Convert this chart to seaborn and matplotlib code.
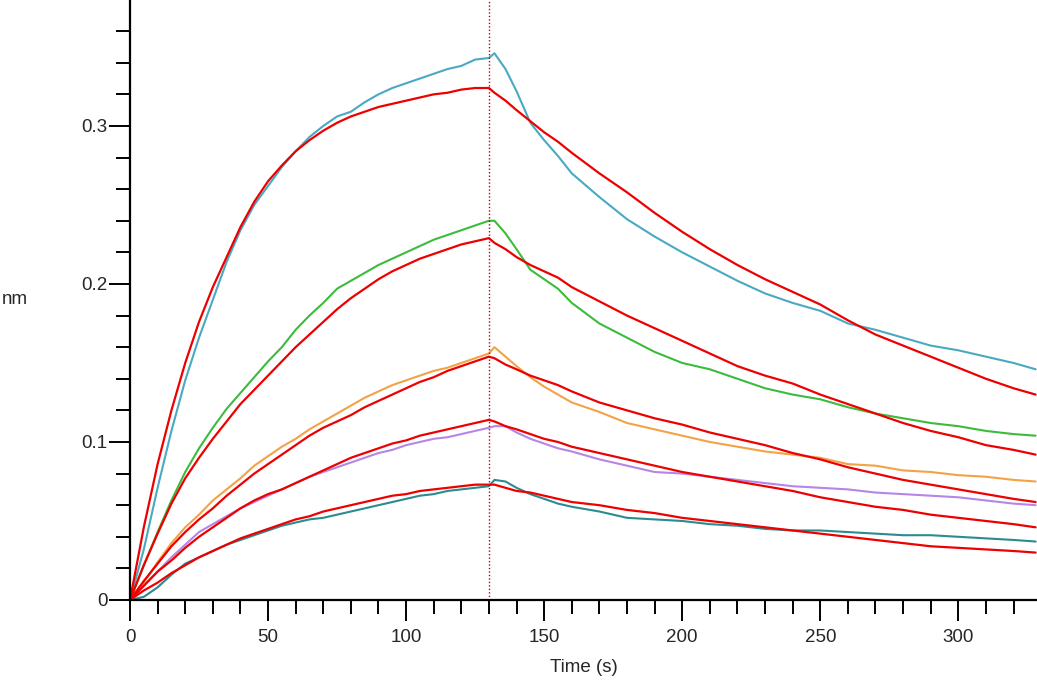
import numpy as np
import pandas as pd
import matplotlib
matplotlib.use("Agg")
import matplotlib.pyplot as plt
import seaborn as sns
from matplotlib.ticker import MultipleLocator

sns.set_style("ticks")
plt.rcParams['font.family'] = ['Liberation Sans', 'DejaVu Sans']

# --- data ---
time_s = [0, 5, 10, 15, 20, 25, 30, 35, 40, 45, 50, 55, 60, 65, 70, 75, 80, 85, 90, 95,
          100, 105, 110, 115, 120, 125, 130,
          132, 136, 140, 145, 150, 155, 160,
          170, 180, 190, 200, 210, 220, 230, 240, 250, 260, 270, 280, 290, 300, 310, 320, 328]

cyan_data = [0, 0.032, 0.071, 0.107, 0.139, 0.166, 0.190, 0.214, 0.234, 0.250, 0.262, 0.274, 0.284, 0.293,
             0.300, 0.306, 0.309, 0.315, 0.320, 0.324, 0.327, 0.330, 0.333, 0.336, 0.338, 0.342, 0.343,
             0.346, 0.336, 0.322, 0.302, 0.291, 0.281, 0.270,
             0.255, 0.241, 0.230, 0.220, 0.211, 0.202, 0.194, 0.188, 0.183, 0.175, 0.171, 0.166, 0.161,
             0.158, 0.154, 0.150, 0.146]
cyan_fit = [0, 0.046, 0.086, 0.120, 0.150, 0.176, 0.198, 0.217, 0.236, 0.252, 0.265, 0.275, 0.284, 0.291,
            0.297, 0.302, 0.306, 0.309, 0.312, 0.314, 0.316, 0.318, 0.320, 0.321, 0.323, 0.324, 0.324,
            0.321, 0.316, 0.310, 0.303, 0.296, 0.290, 0.283,
            0.270, 0.258, 0.245, 0.233, 0.222, 0.212, 0.203, 0.195, 0.187, 0.177, 0.168, 0.161, 0.154,
            0.147, 0.140, 0.134, 0.130]

green_data = [0, 0.022, 0.043, 0.063, 0.081, 0.096, 0.109, 0.121, 0.131, 0.141, 0.151, 0.160, 0.171, 0.180,
              0.188, 0.197, 0.202, 0.207, 0.212, 0.216, 0.220, 0.224, 0.228, 0.231, 0.234, 0.237, 0.240,
              0.240, 0.232, 0.222, 0.209, 0.203, 0.197, 0.188,
              0.175, 0.166, 0.157, 0.150, 0.146, 0.140, 0.134, 0.130, 0.127, 0.122, 0.118, 0.115, 0.112,
              0.110, 0.107, 0.105, 0.104]
green_fit = [0, 0.022, 0.042, 0.061, 0.077, 0.090, 0.102, 0.113, 0.124, 0.133, 0.142, 0.151, 0.160, 0.168,
             0.176, 0.184, 0.191, 0.197, 0.203, 0.208, 0.212, 0.216, 0.219, 0.222, 0.225, 0.227, 0.229,
             0.226, 0.222, 0.217, 0.212, 0.208, 0.204, 0.198,
             0.189, 0.180, 0.172, 0.164, 0.156, 0.148, 0.142, 0.137, 0.130, 0.124, 0.118, 0.112, 0.107,
             0.103, 0.098, 0.095, 0.092]

orange_data = [0, 0.011, 0.024, 0.036, 0.046, 0.054, 0.063, 0.070, 0.077, 0.085, 0.091, 0.097, 0.102, 0.108,
               0.113, 0.118, 0.123, 0.128, 0.132, 0.136, 0.139, 0.142, 0.145, 0.147, 0.150, 0.153, 0.156,
               0.160, 0.154, 0.148, 0.141, 0.135, 0.130, 0.125,
               0.119, 0.112, 0.108, 0.104, 0.100, 0.097, 0.094, 0.092, 0.090, 0.086, 0.085, 0.082, 0.081,
               0.079, 0.078, 0.076, 0.075]
orange_fit = [0, 0.012, 0.023, 0.034, 0.043, 0.051, 0.058, 0.066, 0.073, 0.080, 0.086, 0.092, 0.098, 0.104,
              0.109, 0.113, 0.117, 0.122, 0.126, 0.130, 0.134, 0.138, 0.141, 0.145, 0.148, 0.151, 0.154,
              0.153, 0.149, 0.146, 0.142, 0.139, 0.136, 0.132,
              0.125, 0.120, 0.115, 0.111, 0.106, 0.102, 0.098, 0.093, 0.089, 0.084, 0.080, 0.076, 0.073,
              0.070, 0.067, 0.064, 0.062]

purple_data = [0, 0.009, 0.018, 0.027, 0.035, 0.043, 0.048, 0.053, 0.058, 0.062, 0.066, 0.070, 0.074, 0.078,
               0.081, 0.084, 0.087, 0.090, 0.093, 0.095, 0.098, 0.100, 0.102, 0.103, 0.105, 0.107, 0.109,
               0.110, 0.110, 0.106, 0.102, 0.099, 0.096, 0.094,
               0.089, 0.085, 0.081, 0.080, 0.078, 0.076, 0.074, 0.072, 0.071, 0.070, 0.068, 0.067, 0.066,
               0.065, 0.063, 0.061, 0.060]
purple_fit = [0, 0.009, 0.018, 0.025, 0.033, 0.040, 0.046, 0.052, 0.058, 0.063, 0.067, 0.070, 0.074, 0.078,
              0.082, 0.086, 0.090, 0.093, 0.096, 0.099, 0.101, 0.104, 0.106, 0.108, 0.110, 0.112, 0.114,
              0.113, 0.110, 0.108, 0.105, 0.102, 0.100, 0.097,
              0.093, 0.089, 0.085, 0.081, 0.078, 0.075, 0.072, 0.069, 0.065, 0.062, 0.059, 0.057, 0.054,
              0.052, 0.050, 0.048, 0.046]

teal_data = [0, 0.002, 0.008, 0.016, 0.023, 0.027, 0.031, 0.035, 0.038, 0.041, 0.044, 0.047, 0.049, 0.051,
             0.052, 0.054, 0.056, 0.058, 0.060, 0.062, 0.064, 0.066, 0.067, 0.069, 0.070, 0.071, 0.072,
             0.076, 0.075, 0.071, 0.067, 0.064, 0.061, 0.059,
             0.056, 0.052, 0.051, 0.050, 0.048, 0.047, 0.045, 0.044, 0.044, 0.043, 0.042, 0.041, 0.041,
             0.040, 0.039, 0.038, 0.037]
teal_fit = [0, 0.006, 0.011, 0.017, 0.022, 0.027, 0.031, 0.035, 0.039, 0.042, 0.045, 0.048, 0.051, 0.053,
            0.056, 0.058, 0.060, 0.062, 0.064, 0.066, 0.067, 0.069, 0.070, 0.071, 0.072, 0.073, 0.073,
            0.073, 0.071, 0.069, 0.068, 0.066, 0.064, 0.062,
            0.060, 0.057, 0.055, 0.052, 0.050, 0.048, 0.046, 0.044, 0.042, 0.040, 0.038, 0.036, 0.034,
            0.033, 0.032, 0.031, 0.030]

measured = [
    (cyan_data, "#4aa9c2"),
    (green_data, "#3cbb3c"),
    (orange_data, "#f4a245"),
    (purple_data, "#b486e6"),
    (teal_data, "#2b8b91"),
]
fits = [cyan_fit, green_fit, orange_fit, purple_fit, teal_fit]
FIT_COLOR = "#ee0000"

# --- figure ---
fig = plt.figure(figsize=(10.37, 6.81), dpi=100)
ax = fig.add_axes([130 / 1037, 81 / 681, 1 - 130 / 1037, 1 - 81 / 681])

for values, color in measured:
    sns.lineplot(x=time_s, y=values, color=color, lw=1.5, ax=ax, estimator=None)
for values in fits:
    sns.lineplot(x=time_s, y=values, color=FIT_COLOR, lw=1.6, ax=ax, estimator=None)

# end of association phase
ax.axvline(130, color="#c00000", lw=1.0, ls=(0, (1, 1.5)))

ax.set_xlim(0, 328.5)
ax.set_ylim(0, 0.3797)

ax.xaxis.set_major_locator(MultipleLocator(50))
ax.xaxis.set_minor_locator(MultipleLocator(10))
ax.yaxis.set_major_locator(MultipleLocator(0.1))
ax.yaxis.set_minor_locator(MultipleLocator(0.02))
ax.yaxis.set_major_formatter(plt.FuncFormatter(lambda v, p: "0" if abs(v) < 1e-9 else f"{v:.1f}"))

ax.tick_params(axis="both", which="major", direction="out", length=15, width=1.4,
               labelsize=13.5, color="black")
ax.tick_params(axis="both", which="minor", direction="out", length=10, width=1.4, color="black")
ax.tick_params(axis="y", which="major", pad=1)
ax.tick_params(axis="x", which="major", pad=6)

sns.despine(ax=ax)
for side in ("left", "bottom"):
    ax.spines[side].set_linewidth(1.6)
    ax.spines[side].set_color("black")

ax.set_xlabel("Time (s)", fontsize=13.5, labelpad=9)
ax.set_ylabel("")
fig.text(15 / 1037, 1 - 300 / 681, "nm", fontsize=13.5, ha="center", va="center")

fig.savefig("out.png", dpi=100)
